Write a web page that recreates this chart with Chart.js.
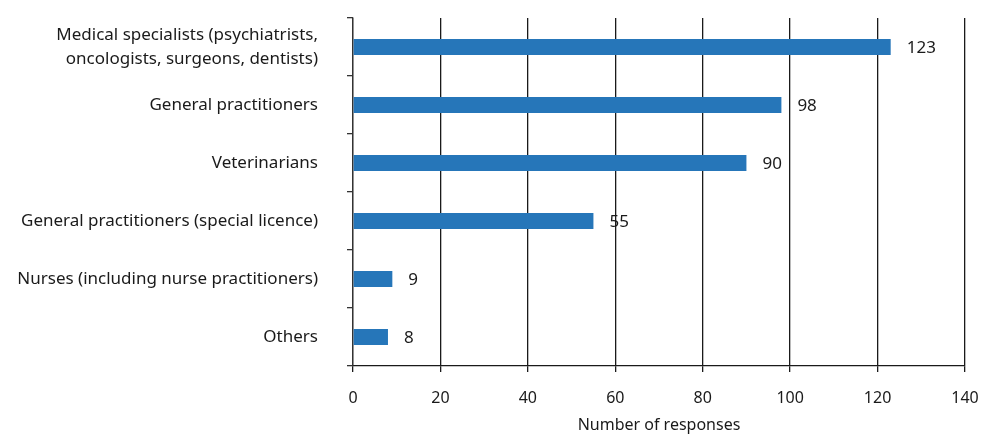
<!DOCTYPE html>
<html><head><meta charset="utf-8">
<script src="https://cdn.jsdelivr.net/npm/chart.js@4/dist/chart.umd.min.js"></script>
<style>html,body{margin:0;padding:0;background:#fff;}#wrap{width:981px;height:435px;position:relative;}</style>
</head><body><div id="wrap"><canvas id="c" width="981" height="435"></canvas></div>
<script>
const categories = [
  ["Medical specialists (psychiatrists,", "oncologists, surgeons, dentists)"],
  "General practitioners",
  "Veterinarians",
  "General practitioners (special licence)",
  "Nurses (including nurse practitioners)",
  "Others"
];
const responses = [123, 98, 90, 55, 9, 8];
const xTicks = [0, 20, 40, 60, 80, 100, 120, 140];
const xTitle = "Number of responses";

const FONT = "'Noto Sans', 'Open Sans', sans-serif";
const valueLabels = {
  id: 'valueLabels',
  afterDatasetsDraw(chart) {
    const ctx = chart.ctx;
    const meta = chart.getDatasetMeta(0);
    ctx.save();
    ctx.font = "17px " + FONT;
    ctx.fillStyle = '#1a1a1a';
    ctx.textAlign = 'left';
    ctx.textBaseline = 'middle';
    meta.data.forEach((bar, i) => {
      ctx.fillText(String(responses[i]), bar.x + 16, bar.y + 1);
    });
    ctx.restore();
  }
};

new Chart(document.getElementById('c'), {
  type: 'bar',
  data: {
    labels: categories,
    datasets: [{
      data: responses,
      backgroundColor: '#2676b9',
      borderWidth: 0,
      barPercentage: 0.56,
      categoryPercentage: 0.5
    }]
  },
  options: {
    indexAxis: 'y',
    responsive: false,
    animation: false,
    layout: { padding: { top: 18, right: 16, left: 0, bottom: 0 } },
    plugins: { legend: { display: false }, tooltip: { enabled: false } },
    scales: {
      x: {
        min: 0, max: 140,
        afterBuildTicks(axis) { axis.ticks = xTicks.map(v => ({ value: v })); },
        afterFit(s) { s.height = 69; s.paddingLeft = 0; s.paddingRight = 0; },
        grid: { color: '#1a1a1a', lineWidth: 1.3, tickLength: 6, drawTicks: true },
        border: { color: '#1a1a1a', width: 1.3 },
        ticks: { color: '#1a1a1a', font: { family: FONT, size: 16 }, padding: 17, maxRotation: 0 },
        title: { display: true, text: xTitle, color: '#1a1a1a', font: { family: FONT, size: 16 }, padding: { top: 4, bottom: 0 } }
      },
      y: {
        afterFit(s) { s.width = 353; s.paddingTop = 0; s.paddingBottom = 0; },
        grid: { offset: true, drawOnChartArea: false, tickLength: 6, color: '#333', lineWidth: 1.3 },
        border: { color: '#333', width: 1.3 },
        ticks: { color: '#1a1a1a', font: { family: FONT, size: 17, lineHeight: 1.4 }, padding: 29 }
      }
    }
  },
  plugins: [valueLabels]
});
</script></body></html>
